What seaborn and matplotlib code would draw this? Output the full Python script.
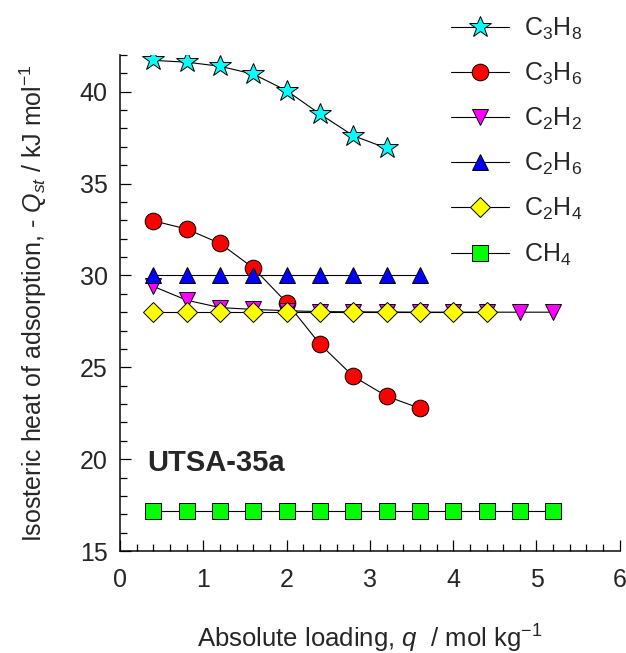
import matplotlib
matplotlib.use("Agg")
import numpy as np
import matplotlib.pyplot as plt
from matplotlib.ticker import MultipleLocator
import seaborn as sns

sns.set_theme(style="ticks")
plt.rcParams["font.family"] = ["Liberation Sans", "DejaVu Sans"]
plt.rcParams["mathtext.fontset"] = "custom"
plt.rcParams["mathtext.rm"] = "Liberation Sans"
plt.rcParams["mathtext.it"] = "Liberation Sans:italic"
plt.rcParams["mathtext.bf"] = "Liberation Sans:bold"

# Isosteric heats of adsorption on UTSA-35a
q_c3h8 = [0.4, 0.8, 1.2, 1.6, 2.0, 2.4, 2.8, 3.2]
qst_c3h8 = [41.70, 41.60, 41.38, 40.95, 40.05, 38.78, 37.60, 36.92]

q_c3h6 = [0.4, 0.8, 1.2, 1.6, 2.0, 2.4, 2.8, 3.2, 3.6]
qst_c3h6 = [32.97, 32.52, 31.74, 30.40, 28.52, 26.26, 24.51, 23.43, 22.77]

q_c2h2 = [0.4, 0.8, 1.2, 1.6, 2.0, 2.4, 2.8, 3.2, 3.6, 4.0, 4.4, 4.8, 5.2]
qst_c2h2 = [29.40, 28.65, 28.25, 28.15, 28.08, 28.03, 28.02, 28.01, 28.0, 28.0, 28.0, 28.0, 28.0]

q_c2h6 = [0.4, 0.8, 1.2, 1.6, 2.0, 2.4, 2.8, 3.2, 3.6]
qst_c2h6 = [30.0, 30.0, 30.0, 30.0, 30.0, 30.0, 30.0, 30.0, 30.0]

q_c2h4 = [0.4, 0.8, 1.2, 1.6, 2.0, 2.4, 2.8, 3.2, 3.6, 4.0, 4.4]
qst_c2h4 = [28.0, 28.0, 28.0, 28.0, 28.0, 28.0, 28.0, 28.0, 28.0, 28.0, 28.0]

q_ch4 = [0.4, 0.8, 1.2, 1.6, 2.0, 2.4, 2.8, 3.2, 3.6, 4.0, 4.4, 4.8, 5.2]
qst_ch4 = [17.2] * 13

series = [
    (q_c3h8, qst_c3h8, "C$_3$H$_8$", "*", "#00ffff", 16.5),
    (q_c3h6, qst_c3h6, "C$_3$H$_6$", "o", "#ff0000", 12),
    (q_c2h2, qst_c2h2, "C$_2$H$_2$", "v", "#ff00ff", 12),
    (q_c2h6, qst_c2h6, "C$_2$H$_6$", "^", "#0000ff", 12),
    (q_c2h4, qst_c2h4, "C$_2$H$_4$", "D", "#ffff00", 10),
    (q_ch4, qst_ch4, "CH$_4$", "s", "#00ff00", 11),
]

fig = plt.figure(figsize=(6.26, 6.53), dpi=100)
ax = fig.add_axes([0.192, 0.156, 0.798, 0.760])

for x, y, label, marker, fc, ms in series:
    sns.lineplot(x=x, y=y, ax=ax, color="black", linewidth=0.8,
                 marker=marker, markersize=ms, markerfacecolor=fc,
                 markeredgecolor="black", markeredgewidth=0.7,
                 label=label, sort=False, estimator=None)

sns.despine(ax=ax)

ax.set_xlabel("Absolute loading, $\\it{q}$  / mol kg$^{-1}$", fontsize=18.5, labelpad=22)
ax.set_ylabel("Isosteric heat of adsorption, - $\\it{Q}$$_{st}$ / kJ mol$^{-1}$",
              fontsize=18, labelpad=22)

ax.text(0.33, 19.8, "UTSA-35a", fontsize=21, fontweight="bold", va="center", ha="left")

ax.legend(loc="upper right", bbox_to_anchor=(0.97, 1.125), frameon=False,
          fontsize=18, handlelength=2.3, labelspacing=0.76, handletextpad=0.6)

# axis limits and locators
ax.set_xlim(0, 6)
ax.set_ylim(15, 42)
ax.xaxis.set_major_locator(MultipleLocator(1))
ax.xaxis.set_minor_locator(MultipleLocator(0.2))
ax.yaxis.set_major_locator(MultipleLocator(5))
ax.yaxis.set_minor_locator(MultipleLocator(1))
ax.tick_params(axis="both", which="both", length=0, color="black")
ax.tick_params(axis="both", which="major", labelsize=18, pad=12)
ax.tick_params(axis="y", which="major", pad=9)

# inward tick marks drawn at the locator positions, in axes-fraction lengths
w_in = fig.get_figwidth() * ax.get_position().width
h_in = fig.get_figheight() * ax.get_position().height
major_pt, minor_pt = 8.0, 5.0
x0, x1 = ax.get_xlim()
y0, y1 = ax.get_ylim()
xmaj = np.array([v for v in ax.xaxis.get_majorticklocs() if x0 <= v <= x1])
xmin = np.array([v for v in ax.xaxis.get_minorticklocs() if x0 <= v <= x1])
ymaj = np.array([v for v in ax.yaxis.get_majorticklocs() if y0 <= v <= y1])
ymin = np.array([v for v in ax.yaxis.get_minorticklocs() if y0 <= v <= y1])
tick_kw = dict(color="black", linewidth=0.9, clip_on=False, zorder=5)
ax.vlines(xmaj, 0, major_pt / 72 / h_in, transform=ax.get_xaxis_transform(), **tick_kw)
ax.vlines(xmin, 0, minor_pt / 72 / h_in, transform=ax.get_xaxis_transform(), **tick_kw)
ax.hlines(ymaj, 0, major_pt / 72 / w_in, transform=ax.get_yaxis_transform(), **tick_kw)
ax.hlines(ymin, 0, minor_pt / 72 / w_in, transform=ax.get_yaxis_transform(), **tick_kw)
ax.set_xlim(x0, x1)
ax.set_ylim(y0, y1)

fig.savefig("out.png", dpi=100)
